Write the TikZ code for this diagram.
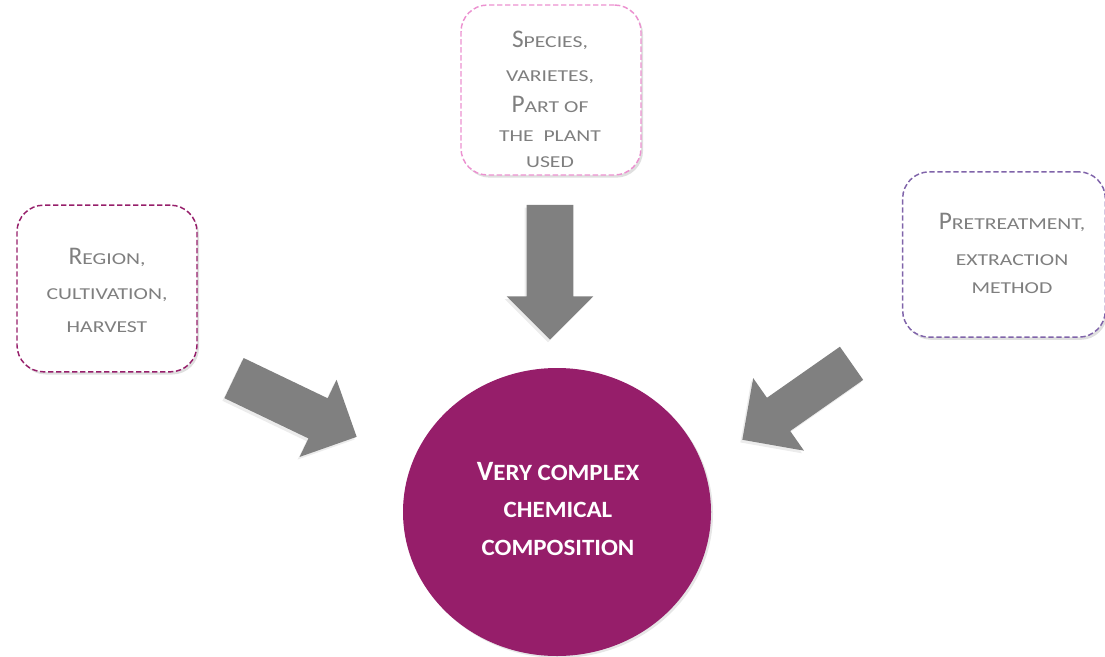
\documentclass[tikz,border=0pt]{standalone}
\usepackage{fontspec}
\setmainfont{Carlito}
\usetikzlibrary{shapes.geometric,shapes.arrows,shadows}

\definecolor{plum}{RGB}{150,30,106}
\definecolor{softpink}{RGB}{236,145,208}
\definecolor{lavender}{RGB}{128,100,170}
\definecolor{boxtext}{RGB}{127,127,127}
\definecolor{arrowgray}{RGB}{128,128,128}

\newcommand{\sccap}[2]{{\fontsize{19}{19}\selectfont\addfontfeature{FakeStretch=1.0}#1}#2}
\newcommand{\sccapbf}[2]{{\fontsize{21}{21}\selectfont\addfontfeature{FakeStretch=1.0}#1}#2}

\tikzset{
  factor/.style={draw, rounded corners=20pt, dash pattern=on 4pt off 2pt,
    line width=1.1pt, fill=white,
    drop shadow={opacity=0.25, shadow xshift=1.5pt, shadow yshift=-2pt}},
  factortext/.style={anchor=north, align=center, text=boxtext, inner sep=0pt},
  bigarrow/.style={single arrow, fill=arrowgray, draw=none, anchor=tip,
    single arrow tip angle=90,
    drop shadow={opacity=0.15, shadow xshift=-1.5pt, shadow yshift=-2pt}}
}

\begin{document}
\begin{tikzpicture}[x=0.75pt,y=-0.75pt]
  \useasboundingbox (0,0) rectangle (1105,656);
  \clip (0,0) rectangle (1105,656);

  % factors
  \node[factor, draw=softpink, minimum width=135pt, minimum height=127.5pt] (species) at (551,90) {};
  \node[factortext, font=\fontsize{12.5}{19}\selectfont\addfontfeature{FakeStretch=1.3}] (species-txt) at (550,31)
    {\sccap{S}{PECIES,}\\[6.5pt] VARIETES,\\[4pt] \sccap{P}{ART OF}\\[3pt] THE\ \ PLANT\\ USED};

  \node[factor, draw=plum, minimum width=135pt, minimum height=125pt] (region) at (107,288.5) {};
  \node[factortext, font=\fontsize{12.5}{25}\selectfont\addfontfeature{FakeStretch=1.3}] (region-txt) at (107,248)
    {\sccap{R}{EGION,}\\[1pt] CULTIVATION,\\ HARVEST};

  \node[factor, draw=lavender, minimum width=152pt, minimum height=124pt] (method) at (1004,254.5) {};
  \node[factortext, font=\fontsize{12.5}{21}\selectfont\addfontfeature{FakeStretch=1.3}] (method-txt) at (1012,213)
    {\sccap{P}{RETREATMENT,}\\[6.25pt] EXTRACTION\\ METHOD};

  % arrows
  \node[bigarrow, minimum height=101pt, inner sep=17.25pt, single arrow head extend=15pt, rotate=-90] (arr-species) at (550,340) {};
  \node[bigarrow, minimum height=102pt, inner sep=16.5pt, single arrow head extend=15.4pt, rotate=-25.6] (arr-region) at (357,437) {};
  \node[bigarrow, minimum height=100pt, inner sep=15pt, single arrow head extend=18pt, rotate=-145] (arr-method) at (742,440) {};

  % result
  \node[ellipse, fill=plum, minimum width=231pt, minimum height=216pt,
    drop shadow={opacity=0.2, shadow xshift=1.5pt, shadow yshift=-1.5pt}] (composition) at (557,512) {};
  \node[anchor=north, align=center, text=white, inner sep=0pt,
    font=\bfseries\fontsize{17.5}{28}\selectfont\addfontfeature{FakeStretch=1.07}] (composition-txt) at (558,462)
    {\sccapbf{V}{ERY COMPLEX}\\ CHEMICAL\\ COMPOSITION};
\end{tikzpicture}
\end{document}
